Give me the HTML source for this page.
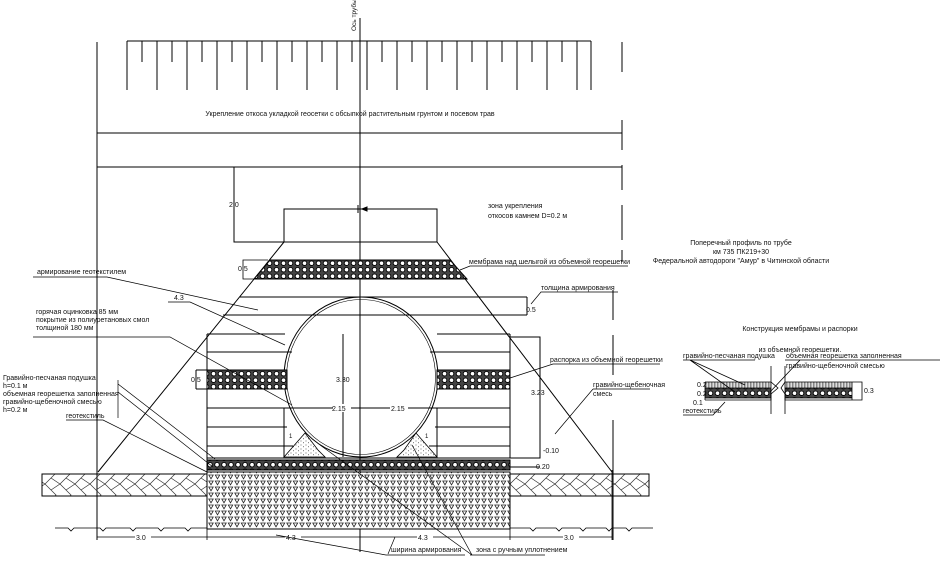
<!DOCTYPE html>
<html><head><meta charset="utf-8"><style>
html,body{margin:0;padding:0;background:#fff;}
svg{display:block;font-family:"Liberation Sans",sans-serif;}
text{font-size:7px;fill:#111;}
</style></head><body>
<svg width="943" height="561" viewBox="0 0 943 561" xmlns="http://www.w3.org/2000/svg">
<defs>
<pattern id="circ" width="7" height="6.5" patternUnits="userSpaceOnUse">
<rect width="7" height="6.5" fill="#444"/>
<circle cx="3.5" cy="3.2" r="2.3" fill="#fff" stroke="#000" stroke-width="0.9"/>
</pattern>
<pattern id="circ2" width="7" height="6.5" patternUnits="userSpaceOnUse" x="3.5">
<rect width="7" height="6.5" fill="#444"/>
<circle cx="3.5" cy="3.2" r="2.3" fill="#fff" stroke="#000" stroke-width="0.9"/>
</pattern>
<pattern id="tri" width="6.5" height="6" patternUnits="userSpaceOnUse">
<rect width="6.5" height="6" fill="#fff"/>
<path d="M0.8,1 L5.2,1 L3,4.8 Z" fill="none" stroke="#222" stroke-width="0.8"/>
</pattern>
<pattern id="herr" width="30" height="22" patternUnits="userSpaceOnUse">
<path d="M0,0 L11,11 L0,22 M15,0 L26,11 L15,22 M6,6 L15,0 M6,16 L15,22 M21,6 L30,0 M21,16 L30,22" stroke="#333" stroke-width="0.7" fill="none"/>
</pattern>
<pattern id="sand" width="5" height="4" patternUnits="userSpaceOnUse">
<rect width="5" height="4" fill="#fff"/>
<circle cx="1" cy="1" r="0.5" fill="#444"/><circle cx="3.5" cy="2.8" r="0.5" fill="#444"/>
</pattern>
<pattern id="sand2" width="3" height="3" patternUnits="userSpaceOnUse">
<rect width="3" height="3" fill="#ddd"/><rect x="0" y="0" width="1.5" height="3" fill="#888"/>
</pattern>
</defs>

<g stroke="#000" stroke-width="1" fill="none">
<line x1="360" y1="18" x2="360" y2="552"/>
<line x1="97" y1="42" x2="97" y2="540"/>
<path d="M622,42 V72 M622,120 V150 M622,165 V190 M622,205 V240 M622,250 V262 M613,290 V320 M613,335 V375 M613,420 V540"/>
<line x1="127" y1="41" x2="591" y2="41"/>
</g>
<g stroke="#000" stroke-width="1">
<path d="M127,41V90 M142,41V62 M157,41V90 M172,41V62 M187,41V90 M202,41V62 M217,41V90 M232,41V62 M247,41V90 M262,41V62 M277,41V90 M292,41V62 M307,41V90 M322,41V62 M337,41V90 M352,41V62 M367,41V90 M382,41V62 M397,41V90 M412,41V62 M427,41V90 M442,41V62 M457,41V90 M472,41V62 M487,41V90 M502,41V62 M517,41V90 M532,41V62 M547,41V90 M562,41V62 M577,41V90 M591,41V90"/>
</g>
<text x="356" y="31" transform="rotate(-90 356 31)" style="font-size:6.5px">Ось трубы</text>
<text x="350" y="116" text-anchor="middle">Укрепление откоса укладкой геосетки с обсыпкой растительным грунтом и посевом трав</text>

<g stroke="#000" stroke-width="1" fill="none">
<line x1="97" y1="133" x2="622" y2="133"/>
<line x1="97" y1="167" x2="622" y2="167"/>
<path d="M234,167 V242 H437 V209 H284 V242"/>
<path d="M372,209 H362 M358,205 V213"/>
<path d="M362,209 l5,-2 v4 z" fill="#000"/>
<line x1="284" y1="242" x2="98" y2="472"/>
<line x1="437" y1="242" x2="612" y2="472"/>
</g>
<text x="229" y="207">2.0</text>
<text x="488" y="208">зона укрепления</text>
<text x="488" y="218">откосов камнем D=0.2 м</text>

<path d="M270,260 L450,260 L467,279 L254,279 Z" fill="url(#circ)" stroke="#000"/>
<path d="M268,260 H243 V279 H256" fill="none" stroke="#000" stroke-width="0.8"/>
<text x="238" y="271">0.5</text>
<text x="469" y="264">мембрама над шелыгой из объемной георешетки</text>
<path d="M460,270 L470,266 H628" stroke="#000" fill="none" stroke-width="0.8"/>

<g stroke="#000" stroke-width="1" fill="none">
<line x1="240" y1="297" x2="527" y2="297"/>
<line x1="223" y1="315" x2="527" y2="315"/>
<line x1="527" y1="297" x2="527" y2="315"/>
<ellipse cx="361" cy="377" rx="77" ry="80"/>
<ellipse cx="361" cy="377" rx="74.5" ry="77.5" stroke-width="0.6"/>
<path d="M207,334 H285 M437,334 H510 M207,334 V472 M510,334 V458 M510,337 H540 V458 H510"/>
<path d="M207,352 H292 M430,352 H510"/>
<path d="M207,408 H285 M437,408 H510 M285,408 H437"/>
<path d="M207,427 H287 M435,427 H510 M207,446 H293 M429,446 H510"/>
<path d="M284,408 V457 M437,408 V457"/>
<path d="M343,334 V457"/>
<path d="M196,370 H207 M196,389 H207 M196,370 V389"/>
<path d="M510,458 H540 M510,467 H540"/>
</g>
<rect x="207" y="370" width="80" height="19" fill="url(#circ)" stroke="#000"/>
<rect x="437" y="370" width="73" height="19" fill="url(#circ)" stroke="#000"/>
<path d="M284,457 L305,433 L318,450 L325,457 Z" fill="url(#sand)" stroke="#000" stroke-width="0.8"/>
<path d="M437,457 L416,433 L404,450 L397,457 Z" fill="url(#sand)" stroke="#000" stroke-width="0.8"/>
<rect x="207" y="460" width="303" height="10" fill="url(#circ2)" stroke="#000"/>
<line x1="207" y1="458" x2="510" y2="458" stroke="#000"/>
<rect x="207" y="472" width="303" height="57" fill="url(#tri)" stroke="#000"/>
<rect x="42" y="474" width="165" height="22" fill="url(#herr)" stroke="#000"/>
<rect x="510" y="474" width="139" height="22" fill="url(#herr)" stroke="#000"/>
<path d="M55,528 H68 l3,3 l3,-3 H100 l3,3 l3,-3 H130 l3,3 l3,-3 H158 l3,3 l3,-3 H185 l3,3 l3,-3 H207 M510,528 H530 l3,3 l3,-3 H556 l3,3 l3,-3 H580 l3,3 l3,-3 H606 l3,3 l3,-3 H626 l3,3 l3,-3 H653" fill="none" stroke="#000" stroke-width="0.8"/>
<g stroke="#000" stroke-width="0.8" fill="none">
<line x1="97" y1="537" x2="612" y2="537"/>
<line x1="207" y1="529" x2="207" y2="540"/>
<line x1="510" y1="529" x2="510" y2="540"/>
<line x1="612" y1="470" x2="612" y2="540"/>
</g>
<g style="font-size:7px">
<rect x="135" y="533" width="16" height="8" fill="#fff"/><text x="136" y="540">3.0</text>
<rect x="285" y="533" width="16" height="8" fill="#fff"/><text x="286" y="540">4.3</text>
<rect x="417" y="533" width="16" height="8" fill="#fff"/><text x="418" y="540">4.3</text>
<rect x="563" y="533" width="16" height="8" fill="#fff"/><text x="564" y="540">3.0</text>
<rect x="333" y="404" width="18" height="8" fill="#fff"/><text x="332" y="411">2.15</text>
<rect x="390" y="404" width="18" height="8" fill="#fff"/><text x="391" y="411">2.15</text>
</g>
<text x="336" y="382">3.30</text>
<text x="191" y="382">0.5</text>
<text x="531" y="395">3.23</text>
<text x="543" y="453">-0.10</text>
<text x="536" y="469">0.20</text>
<text x="526" y="312">0.5</text>
<text x="289" y="438" style="font-size:6px">1</text>
<text x="425" y="438" style="font-size:6px">1</text>

<text x="37" y="274">армирование геотекстилем</text>
<text x="174" y="300">4.3</text>
<text x="36" y="314">горячая оцинковка 85 мм</text>
<text x="36" y="322">покрытие из полиуретановых смол</text>
<text x="36" y="330">толщиной 180 мм</text>
<text x="3" y="380">Гравийно-песчаная подушка</text>
<text x="3" y="388">h=0.1 м</text>
<text x="3" y="396">объемная георешетка заполненная</text>
<text x="3" y="404">гравийно-щебеночной смесью</text>
<text x="3" y="412">h=0.2 м</text>
<text x="66" y="418">геотекстиль</text>
<text x="391" y="552">ширина армирования</text>
<text x="476" y="552">зона с ручным уплотнением</text>
<text x="541" y="290">толщина армирования</text>
<text x="550" y="362">распорка из объемной георешетки</text>
<text x="593" y="387">гравийно-щебеночная</text>
<text x="593" y="396">смесь</text>

<g stroke="#000" stroke-width="0.7" fill="none">
<path d="M33,277 H107 L258,310"/>
<path d="M168,302 H190 L285,345"/>
<path d="M33,337 H170 L292,405"/>
<path d="M118,380 V418 M118,384 L215,459 M118,392 L213,467"/>
<path d="M66,420 H103 L207,472"/>
<path d="M276,535 L386,555 H465 M388,554 L395,537"/>
<path d="M470,555 H545 M472,555 L320,445 M472,555 L412,445"/>
<path d="M531,304 L541,292 H618"/>
<path d="M510,378 L553,364 H660"/>
<path d="M593,389 H650 M593,389 L555,434"/>
</g>

<g text-anchor="middle">
<text x="741" y="245">Поперечный профиль  по трубе</text>
<text x="741" y="254">км 735 ПК219+30</text>
<text x="741" y="263">Федеральной автодороги "Амур" в Читинской области</text>
<text x="800" y="331">Конструкция мембрамы и распорки</text>
<text x="800" y="352">из объемной георешетки.</text>
</g>
<rect x="705" y="382" width="66" height="6" fill="url(#sand2)"/>
<rect x="785" y="382" width="67" height="6" fill="url(#sand2)"/>
<rect x="705" y="388" width="66" height="10" fill="url(#circ)"/>
<rect x="785" y="388" width="67" height="10" fill="url(#circ)"/>
<g stroke="#000" stroke-width="0.8" fill="none">
<path d="M705,382 H771 L778,388 L771,394 V400 H705 M705,388 H771 M705,398 H771 M705,382 V400"/>
<path d="M852,382 H785 L781,388 L785,394 V400 H852 M785,388 H852 M785,398 H852 M852,382 V400 H862 V382 H852"/>
<path d="M771,366 V414 M785,366 V414"/>
<path d="M683,360 H755 M690,360 L745,385 M690,360 L735,392"/>
<path d="M785,360 H940 M800,360 L770,392"/>
<path d="M683,415 H713 L725,402"/>
</g>
<text x="683" y="358">гравийно-песчаная подушка</text>
<text x="786" y="358">объемная георешетка заполненная</text>
<text x="786" y="368">гравийно-щебеночной смесью</text>
<text x="683" y="413">геотекстиль</text>
<text x="697" y="387">0.2</text>
<text x="697" y="396">0.2</text>
<text x="693" y="405">0.1</text>
<text x="864" y="393">0.3</text>
</svg>
</body></html>
